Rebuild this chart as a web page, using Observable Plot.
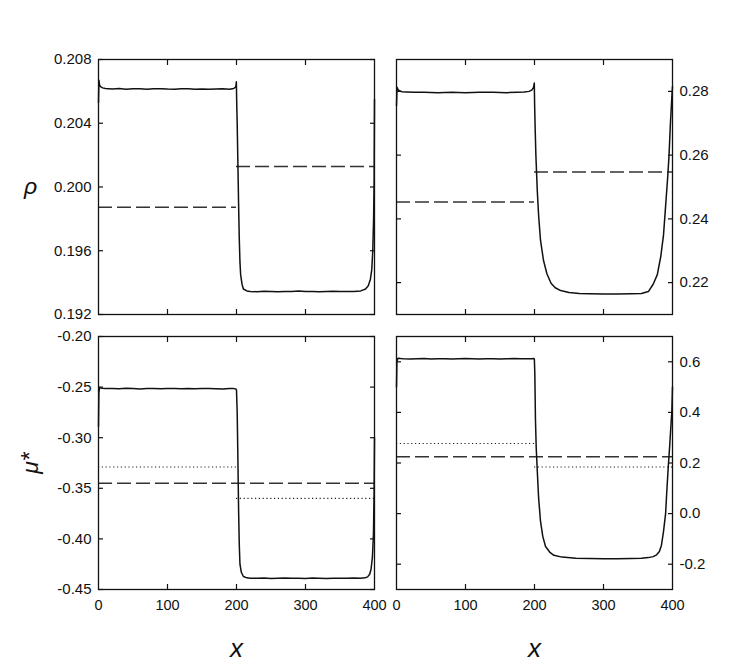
<!DOCTYPE html>
<html>
<head>
<meta charset="utf-8">
<script src="https://cdn.jsdelivr.net/npm/d3@7"></script>
<script src="https://cdn.jsdelivr.net/npm/@observablehq/plot@0.6"></script>
<style>
  html, body { margin: 0; padding: 0; background: #fff; }
  #chart { position: relative; width: 747px; height: 663px; background: #fff; }
  #chart svg { position: absolute; left: 0; top: 0; }
</style>
</head>
<body>
<div id="chart"></div>
<script>
// ---------- data ----------
const xTicks = [0, 100, 200, 300, 400];

// top-left: rho, case A
const rhoA_x = [0, 0.6, 1.5, 3, 6, 10, 20, 30, 40, 50, 60, 70, 80, 90, 100, 110, 120, 130, 140, 150, 160, 170, 180, 190, 196, 199, 199.8, 200.3, 201, 202, 203, 204, 205, 206, 208, 210, 215, 220, 230, 240, 250, 260, 270, 280, 290, 300, 310, 320, 330, 340, 350, 360, 370, 380, 387, 391, 394, 396, 397.5, 398.7, 399.5, 400];
const rhoA_y = [0.2053, 0.2067, 0.2064, 0.20630, 0.20622, 0.20618, 0.20615, 0.20618, 0.20614, 0.20616, 0.20617, 0.20614, 0.20616, 0.20617, 0.20615, 0.20614, 0.20616, 0.20617, 0.20614, 0.20615, 0.20613, 0.20615, 0.20616, 0.20614, 0.20618, 0.20628, 0.2066, 0.2053, 0.2040, 0.2015, 0.1990, 0.1968, 0.1953, 0.1945, 0.1939, 0.1936, 0.19348, 0.19345, 0.19343, 0.19346, 0.19344, 0.19342, 0.19345, 0.19344, 0.19347, 0.19344, 0.19345, 0.19342, 0.19344, 0.19346, 0.19344, 0.19345, 0.19345, 0.19348, 0.19360, 0.1938, 0.1942, 0.1948, 0.1960, 0.1980, 0.2005, 0.2055];
const rhoA_ticks = [0.192, 0.196, 0.200, 0.204, 0.208];
const rhoA_dash = [0.19873, 0.20129];   // left half, right half

// top-right: rho, case B
const rhoB_x = [0, 0.8, 2, 4, 8, 15, 25, 40, 60, 80, 100, 120, 140, 160, 175, 185, 192, 196, 198.5, 199.7, 200.2, 201, 202, 204, 206, 208.7, 213, 218, 224, 230, 238, 250, 265, 280, 300, 320, 340, 355, 365, 372, 378, 383, 387, 390, 393, 395, 397, 399, 400];
const rhoB_y = [0.2755, 0.2813, 0.2807, 0.2802, 0.2799, 0.2798, 0.2797, 0.2797, 0.2796, 0.2797, 0.2796, 0.2797, 0.2797, 0.2796, 0.2797, 0.2798, 0.2800, 0.2804, 0.2812, 0.2826, 0.2755, 0.2680, 0.2600, 0.2490, 0.2410, 0.2333, 0.2270, 0.2228, 0.2198, 0.2184, 0.2175, 0.2169, 0.2166, 0.2165, 0.2164, 0.2164, 0.2165, 0.2166, 0.2172, 0.2195, 0.2225, 0.2282, 0.2350, 0.2440, 0.2530, 0.2600, 0.2700, 0.2780, 0.2815];
const rhoB_ticks = [0.22, 0.24, 0.26, 0.28];
const rhoB_dash = [0.2453, 0.2547];

// bottom-left: mu*, case A
const muA_x = [0, 0.5, 1.5, 3, 6, 10, 20, 30, 40, 50, 60, 70, 80, 90, 100, 110, 120, 130, 140, 150, 160, 170, 180, 190, 196, 199, 200, 201, 202, 203, 204, 205, 207, 210, 215, 220, 230, 240, 250, 260, 270, 280, 290, 300, 310, 320, 330, 340, 350, 360, 370, 380, 386, 390, 393, 395, 397, 398.5, 399.5, 400];
const muA_y = [-0.289, -0.256, -0.2505, -0.2508, -0.2512, -0.2515, -0.2514, -0.2517, -0.2512, -0.2515, -0.2518, -0.2514, -0.2513, -0.2516, -0.2515, -0.2513, -0.2516, -0.2514, -0.2517, -0.2515, -0.2514, -0.2516, -0.2518, -0.2515, -0.2515, -0.2518, -0.2530, -0.2750, -0.3200, -0.3700, -0.4050, -0.4250, -0.4330, -0.4372, -0.4385, -0.4388, -0.4390, -0.4387, -0.4391, -0.4388, -0.4387, -0.4390, -0.4388, -0.4391, -0.4387, -0.4389, -0.4391, -0.4388, -0.4388, -0.4390, -0.4387, -0.4389, -0.4385, -0.4375, -0.4350, -0.4300, -0.4180, -0.3950, -0.3500, -0.3000];
const muA_ticks = [-0.45, -0.40, -0.35, -0.30, -0.25, -0.20];
const muA_dash = -0.345;                 // whole range
const muA_dot = [-0.329, -0.360];        // left half, right half

// bottom-right: mu*, case B
const muB_x = [0, 0.6, 1.5, 3, 6, 10, 20, 30, 40, 50, 60, 70, 80, 90, 100, 110, 120, 130, 140, 150, 160, 170, 180, 190, 196, 199, 199.8, 200.5, 201.4, 202.5, 204, 206, 208.7, 212, 216, 222, 228, 240, 260, 280, 300, 320, 340, 355, 365, 372, 377, 381, 384, 387, 390, 392, 394, 396, 398, 399, 400];
const muB_y = [0.50, 0.60, 0.612, 0.614, 0.613, 0.612, 0.611, 0.612, 0.613, 0.611, 0.612, 0.612, 0.611, 0.612, 0.613, 0.612, 0.611, 0.612, 0.612, 0.611, 0.612, 0.613, 0.612, 0.612, 0.612, 0.613, 0.610, 0.55, 0.37, 0.26, 0.17, 0.06, -0.03, -0.09, -0.13, -0.152, -0.165, -0.172, -0.176, -0.177, -0.178, -0.178, -0.177, -0.176, -0.174, -0.170, -0.163, -0.150, -0.125, -0.070, 0.000, 0.100, 0.190, 0.270, 0.360, 0.400, 0.500];
const muB_ticks = [-0.2, 0.0, 0.2, 0.4, 0.6];
const muB_dash = 0.225;
const muB_dot = [0.277, 0.184];

// ---------- drawing ----------
const W = 747, H = 663;
const FONT = "'Liberation Sans', Arial, Helvetica, sans-serif";
const INK = "#111";

function zip(xs, ys) { return xs.map((x, i) => ({x, y: ys[i]})); }

function panel({xs, ys, yDomain, yTicks, yFmt, side, row, col, dashes, dots, showX, ylabel, ylabelRotate}) {
  const margins = {
    marginLeft: col === 0 ? 98 : 396,
    marginRight: col === 0 ? W - 374 : W - 672,
    marginTop: row === 0 ? 59 : 336,
    marginBottom: row === 0 ? H - 314 : H - 589
  };
  const inward = {tickSize: -5, tickFormat: () => "", label: null, stroke: INK, strokeWidth: 1.2};
  const marks = [
    Plot.axisX(xTicks.slice(1, -1), {anchor: "bottom", ...inward}),
    Plot.axisX(xTicks.slice(1, -1), {anchor: "top", ...inward}),
    Plot.axisY(yTicks, {anchor: "left", ...inward}),
    Plot.axisY(yTicks, {anchor: "right", ...inward}),
    Plot.axisY(yTicks, {anchor: side, tickSize: 0, tickPadding: 7, tickFormat: yFmt, label: null, fontSize: 15, fill: INK})
  ];
  if (showX) {
    marks.push(Plot.axisX(xTicks, {anchor: "bottom", tickSize: 0, tickPadding: 10, tickFormat: d => String(d), label: null, fontSize: 14.5, fill: INK}));
    marks.push(Plot.text(["x"], {frameAnchor: "bottom", dy: 59, text: d => d, fontSize: 26, fontStyle: "italic", fill: INK, lineAnchor: "middle"}));
  }
  if (ylabel) {
    marks.push(Plot.text([ylabel], {frameAnchor: "left", dx: -68, text: d => d, fontSize: 23, fontStyle: "italic", fill: INK, rotate: ylabelRotate, lineAnchor: "middle", textAnchor: "middle"}));
  }
  // reference levels
  for (const d of dashes) {
    marks.push(Plot.ruleY([d.y], {x1: d.x1, x2: d.x2, stroke: "#333", strokeWidth: 1.5, strokeDasharray: "14,5"}));
  }
  for (const d of dots) {
    marks.push(Plot.ruleY([d.y], {x1: d.x1, x2: d.x2, stroke: "#222", strokeWidth: 1.1, strokeDasharray: "1.2,2.6"}));
  }
  marks.push(Plot.line(zip(xs, ys), {x: "x", y: "y", stroke: INK, strokeWidth: 1.5, curve: "linear"}));
  marks.push(Plot.frame({stroke: INK, strokeWidth: 1.3}));

  return Plot.plot({
    width: W, height: H, ...margins,
    x: {domain: [0, 400], axis: null},
    y: {domain: yDomain, axis: null},
    style: {fontFamily: FONT, fontSize: "15px", background: "transparent", color: INK},
    marks
  });
}

const chart = document.getElementById("chart");
const fmt3 = d => d.toFixed(3);
const fmt2 = d => d.toFixed(2);
const fmt1 = d => d.toFixed(1);

chart.appendChild(panel({
  xs: rhoA_x, ys: rhoA_y, yDomain: [0.192, 0.208], yTicks: rhoA_ticks, yFmt: fmt3, side: "left",
  row: 0, col: 0, showX: false, ylabel: "ρ", ylabelRotate: 0,
  dashes: [{y: rhoA_dash[0], x1: 0, x2: 200}, {y: rhoA_dash[1], x1: 200, x2: 400}], dots: []
}));
chart.appendChild(panel({
  xs: rhoB_x, ys: rhoB_y, yDomain: [0.21, 0.29], yTicks: rhoB_ticks, yFmt: fmt2, side: "right",
  row: 0, col: 1, showX: false,
  dashes: [{y: rhoB_dash[0], x1: 0, x2: 200}, {y: rhoB_dash[1], x1: 200, x2: 400}], dots: []
}));
chart.appendChild(panel({
  xs: muA_x, ys: muA_y, yDomain: [-0.45, -0.20], yTicks: muA_ticks, yFmt: fmt2, side: "left",
  row: 1, col: 0, showX: true, ylabel: "μ*", ylabelRotate: -90,
  dashes: [{y: muA_dash, x1: 0, x2: 400}],
  dots: [{y: muA_dot[0], x1: 0, x2: 200}, {y: muA_dot[1], x1: 200, x2: 400}]
}));
chart.appendChild(panel({
  xs: muB_x, ys: muB_y, yDomain: [-0.3, 0.7], yTicks: muB_ticks, yFmt: fmt1, side: "right",
  row: 1, col: 1, showX: true,
  dashes: [{y: muB_dash, x1: 0, x2: 400}],
  dots: [{y: muB_dot[0], x1: 0, x2: 200}, {y: muB_dot[1], x1: 200, x2: 400}]
}));
</script>
</body>
</html>
